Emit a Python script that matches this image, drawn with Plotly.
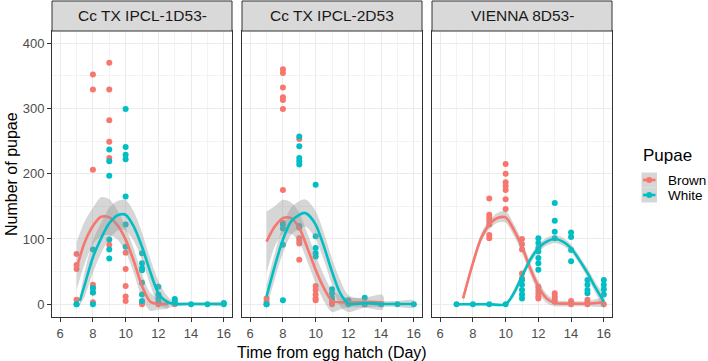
import plotly.graph_objects as go

# ---------------- data ----------------
panels = ["Cc TX IPCL-1D53-", "Cc TX IPCL-2D53", "VIENNA 8D53-"]
series = ["Brown", "White"]
x_ticks = [6, 8, 10, 12, 14, 16]
y_ticks = [0, 100, 200, 300, 400]

# observed points (day, number of pupae)
p1_brown_x = [7]*4 + [8]*7 + [9]*6 + [10]*5 + [11]*2 + [12, 13]
p1_brown_y = [77, 60, 54, 7,
              352, 329, 206, 30, 25, 18, 3,
              370, 329, 282, 249, 224, 91,
              79, 54, 28, 12, 5,
              3, 0, 0, 0]
p1_white_x = [7]*2 + [8]*4 + [9]*6 + [10]*7 + [11]*7 + [12]*4 + [13]*3 + [14, 15, 16, 16]
p1_white_y = [0, 0,
              84, 25, 18, 0,
              237, 219, 197, 99, 84, 70,
              299, 241, 229, 222, 165, 122, 88,
              78, 63, 55, 52, 33, 15, 5,
              27, 15, 8, 3,
              8, 5, 2,
              0, 0, 2, 0]

p2_brown_x = [7]*2 + [8]*8 + [9]*6 + [10]*5 + [11]*3 + [12]*2 + [13, 14]
p2_brown_y = [9, 4,
              360, 354, 332, 317, 313, 299, 175, 125,
              253, 117, 101, 97, 93, 68,
              28, 22, 15, 9, 6,
              7, 3, 0,
              3, 0, 0, 0]
p2_white_x = [7]*2 + [8]*4 + [9]*6 + [10]*5 + [11]*3 + [12]*2 + [13]*2 + [14, 15, 16]
p2_white_y = [0, 0,
              122, 116, 91, 6,
              257, 242, 224, 219, 214, 120,
              183, 104, 86, 78, 73,
              23, 17, 10,
              6, 0,
              10, 0,
              0, 0, 0]

p3_brown_x = [9]*7 + [10]*7 + [11]*5 + [12]*5 + [13]*4 + [14]*2 + [15]*3 + [16]
p3_brown_y = [162, 137, 132, 127, 122, 106, 101,
              215, 200, 187, 181, 175, 161, 146,
              100, 92, 84, 47, 40,
              27, 22, 17, 12, 9,
              17, 12, 8, 4,
              5, 0,
              7, 3, 0,
              0]
p3_white_x = [7, 8, 9, 10] + [11]*5 + [12]*7 + [13]*4 + [14]*4 + [15]*4 + [16]*4
p3_white_y = [0, 0, 0, 0,
              37, 30, 22, 15, 9,
              101, 94, 86, 81, 71, 63, 53,
              155, 128, 111, 101,
              110, 103, 83, 66,
              37, 30, 22, 17,
              37, 30, 23, 15]

# smoothed curves with confidence band
p1_brown_fx = [7.0, 7.5, 8.0, 8.5, 9.0, 9.5, 10.0, 10.5, 11.0, 11.5, 12.0, 12.6]
p1_brown_fy = [55, 95, 120, 134, 133, 121, 99, 66, 28, 4, 0.5, 0.5]
p1_brown_lo = [22, 62, 92, 104, 106, 99, 80, 48, 10, -10, -8, -6]
p1_brown_hi = [95, 127, 148, 164, 161, 144, 118, 85, 46, 18, 9, 7]
p1_white_fx = [7.2, 7.5, 8.0, 8.5, 9.0, 9.5, 9.8, 10.0, 10.5, 11.0, 11.5, 12.0, 12.5, 13.0, 14.0, 15.0, 16.0]
p1_white_fy = [5, 30, 72, 101, 124, 136, 138, 137, 119, 88, 50, 17, 4, 0.5, 0.5, 0.5, 0.5]
p1_white_lo = [-2, 12, 48, 78, 100, 113, 115, 113, 97, 68, 30, 0, -6, -3, -2, -2, -2]
p1_white_hi = [12, 50, 98, 125, 148, 158, 160, 160, 142, 110, 70, 36, 14, 4, 3, 3, 3]

p2_brown_fx = [7.0, 7.5, 8.0, 8.5, 9.0, 9.5, 10.0, 10.5, 11.0, 11.5, 12.0, 13.0, 14.1]
p2_brown_fy = [96, 119, 132, 132, 117, 86, 53, 25, 5, 3, 3, 3, 3]
p2_brown_lo = [48, 88, 108, 108, 95, 65, 32, 5, -12, -8, -5, -5, -8]
p2_brown_hi = [142, 150, 160, 156, 140, 108, 75, 45, 22, 14, 10, 10, 14]
p2_white_fx = [7.0, 7.5, 8.0, 8.5, 9.0, 9.3, 9.5, 10.0, 10.5, 11.0, 11.5, 12.0, 13.0, 14.0, 15.0, 16.0]
p2_white_fy = [12, 58, 99, 127, 137, 140, 138, 122, 89, 50, 17, 1, 1.5, 0.5, 0.5, 0.5]
p2_white_lo = [-5, 38, 78, 106, 116, 119, 117, 100, 68, 30, -3, -12, -5, -4, -4, -5]
p2_white_hi = [30, 78, 120, 148, 158, 161, 159, 143, 110, 70, 37, 14, 8, 5, 5, 6]

p3_brown_fx = [7.4, 8.0, 8.5, 9.0, 9.5, 10.0, 10.5, 11.0, 11.5, 12.0, 12.5, 13.0, 14.0, 15.0, 16.0]
p3_brown_fy = [9, 63, 101, 122, 132, 133, 114, 88, 55, 27, 9, 2, 1, 1, 3]
p3_brown_lo = [3, 57, 95, 115, 125, 125, 105, 79, 46, 18, 2, -3, -3, -3, -3]
p3_brown_hi = [15, 69, 108, 129, 140, 143, 123, 97, 64, 36, 16, 7, 5, 5, 9]
p3_white_fx = [7.0, 8.0, 9.0, 10.0, 10.5, 11.0, 11.5, 12.0, 12.5, 13.0, 13.5, 14.0, 14.5, 15.0, 15.5, 16.0]
p3_white_fy = [0, 0, 0, 0, 17, 43, 68, 86, 96, 100, 96, 86, 68, 48, 25, 4]
p3_white_lo = [-2, -2, -2, -2, 11, 37, 62, 80, 90, 94, 90, 80, 62, 41, 17, -6]
p3_white_hi = [2, 2, 2, 2, 23, 49, 74, 92, 102, 106, 102, 92, 74, 55, 33, 14]

# ---------------- style ----------------
COL = {"Brown": "#F8766D", "White": "#00BFC4"}
RIBBON = "rgba(153,153,153,0.4)"
FONT = "Liberation Sans, Arial, sans-serif"

points = {
    1: {"Brown": (p1_brown_x, p1_brown_y), "White": (p1_white_x, p1_white_y)},
    2: {"Brown": (p2_brown_x, p2_brown_y), "White": (p2_white_x, p2_white_y)},
    3: {"Brown": (p3_brown_x, p3_brown_y), "White": (p3_white_x, p3_white_y)},
}
fits = {
    1: {"Brown": (p1_brown_fx, p1_brown_fy, p1_brown_lo, p1_brown_hi),
        "White": (p1_white_fx, p1_white_fy, p1_white_lo, p1_white_hi)},
    2: {"Brown": (p2_brown_fx, p2_brown_fy, p2_brown_lo, p2_brown_hi),
        "White": (p2_white_fx, p2_white_fy, p2_white_lo, p2_white_hi)},
    3: {"Brown": (p3_brown_fx, p3_brown_fy, p3_brown_lo, p3_brown_hi),
        "White": (p3_white_fx, p3_white_fy, p3_white_lo, p3_white_hi)},
}

fig = go.Figure()
for p in (1, 2, 3):
    xa = "x" if p == 1 else f"x{p}"
    ya = "y" if p == 1 else f"y{p}"
    for s in series:
        px, py = points[p][s]
        fig.add_trace(go.Scatter(x=px, y=py, mode="markers", xaxis=xa, yaxis=ya,
                                 marker=dict(color=COL[s], size=6, line=dict(width=0)),
                                 showlegend=False, hoverinfo="skip"))
    for s in series:
        fx, fy, lo, hi = fits[p][s]
        fig.add_trace(go.Scatter(x=list(fx) + list(fx)[::-1], y=list(hi) + list(lo)[::-1],
                                 mode="lines", fill="toself", fillcolor=RIBBON,
                                 line=dict(width=0, shape="spline", smoothing=0.8),
                                 xaxis=xa, yaxis=ya, showlegend=False, hoverinfo="skip"))
        fig.add_trace(go.Scatter(x=fx, y=fy, mode="lines", xaxis=xa, yaxis=ya,
                                 line=dict(color=COL[s], width=2.6, shape="spline", smoothing=0.8),
                                 showlegend=False, hoverinfo="skip"))

L, R, T, B = 52, 96, 31, 44
W, H = 708, 361
PW, PH = W - L - R, H - T - B
domains = [(0, 180 / PW), (190 / PW, 370 / PW), (380 / PW, 1)]

axis_common = dict(range=[5.5, 16.5], tickvals=x_ticks, ticks="outside", ticklen=4, tickwidth=1,
                   tickcolor="#333333", showline=True, mirror=True, linecolor="#333333", linewidth=1,
                   showgrid=True, gridcolor="#EBEBEB", gridwidth=1, zeroline=False, automargin=False,
                   tickfont=dict(family=FONT, size=13, color="#4D4D4D"),
                   minor=dict(dtick=1, tick0=5, showgrid=True, gridcolor="#F3F3F3", gridwidth=0.6))
yaxis_common = dict(range=[-19.5, 418.5], tickvals=y_ticks, showline=True, mirror=True,
                    linecolor="#333333", linewidth=1, showgrid=True, gridcolor="#EBEBEB", gridwidth=1,
                    zeroline=False, automargin=False, tickfont=dict(family=FONT, size=13, color="#4D4D4D"),
                    minor=dict(dtick=50, tick0=50, showgrid=True, gridcolor="#F3F3F3", gridwidth=0.6))

layout = dict(width=W, height=H, margin=dict(l=L, r=R, t=T, b=B), plot_bgcolor="white",
              paper_bgcolor="white", showlegend=False, font=dict(family=FONT))
for i, (d0, d1) in enumerate(domains, start=1):
    kx = "xaxis" if i == 1 else f"xaxis{i}"
    ky = "yaxis" if i == 1 else f"yaxis{i}"
    layout[kx] = dict(axis_common, domain=[d0, d1], anchor="y" if i == 1 else f"y{i}")
    yd = dict(yaxis_common, domain=[0, 1], anchor="x" if i == 1 else f"x{i}")
    if i == 1:
        yd.update(ticks="outside", ticklen=4, tickwidth=1, tickcolor="#333333")
    else:
        yd.update(showticklabels=False, ticks="")
    layout[ky] = yd
fig.update_layout(**layout)

shapes, annotations = [], []
strip_h = 30 / PH
for (d0, d1), name in zip(domains, panels):
    shapes.append(dict(type="rect", xref="paper", yref="paper", x0=d0, x1=d1, y0=1, y1=1 + strip_h,
                       fillcolor="#D9D9D9", line=dict(color="#333333", width=1)))
    annotations.append(dict(text=name, xref="paper", yref="paper", x=(d0 + d1) / 2, y=1 + strip_h / 2,
                            xanchor="center", yanchor="middle", showarrow=False,
                            font=dict(family=FONT, size=15.5, color="#1A1A1A")))

annotations.append(dict(text="Time from egg hatch (Day)", xref="paper", yref="paper", x=0.5,
                        y=(T + PH - 352) / PH, xanchor="center", yanchor="middle", showarrow=False,
                        font=dict(family=FONT, size=16, color="black")))
annotations.append(dict(text="Number of pupae", xref="paper", yref="paper", x=(11 - L) / PW, y=0.5,
                        xanchor="center", yanchor="middle", textangle=-90, showarrow=False,
                        font=dict(family=FONT, size=16, color="black")))

# legend drawn manually (ggplot style keys)
def px_x(X):
    return (X - L) / PW

def px_y(Y):
    return (T + PH - Y) / PH

annotations.append(dict(text="Pupae", xref="paper", yref="paper", x=px_x(641), y=px_y(155),
                        xanchor="left", yanchor="middle", showarrow=False,
                        font=dict(family=FONT, size=17, color="black")))
for k, s in enumerate(series):
    top = 172.5 + 15 * k
    cy = top + 7.5
    shapes.append(dict(type="rect", xref="paper", yref="paper", x0=px_x(641.5), x1=px_x(657),
                       y0=px_y(top + 15), y1=px_y(top), fillcolor="#D6D6D6", line=dict(width=0)))
    shapes.append(dict(type="line", xref="paper", yref="paper", x0=px_x(643), x1=px_x(655.5),
                       y0=px_y(cy), y1=px_y(cy), line=dict(color=COL[s], width=2.6)))
    shapes.append(dict(type="circle", xref="paper", yref="paper", xsizemode="pixel", ysizemode="pixel",
                       xanchor=px_x(649.2), yanchor=px_y(cy), x0=-3, x1=3, y0=-3, y1=3,
                       fillcolor=COL[s], line=dict(width=0)))
    annotations.append(dict(text=s, xref="paper", yref="paper", x=px_x(666), y=px_y(cy),
                            xanchor="left", yanchor="middle", showarrow=False,
                            font=dict(family=FONT, size=13.5, color="black")))

fig.update_layout(shapes=shapes, annotations=annotations)
fig.write_html("out.html", config={"displayModeBar": False},
               post_script="document.body.style.margin='0';document.body.style.padding='0';"
                           "document.body.style.overflow='hidden';")
